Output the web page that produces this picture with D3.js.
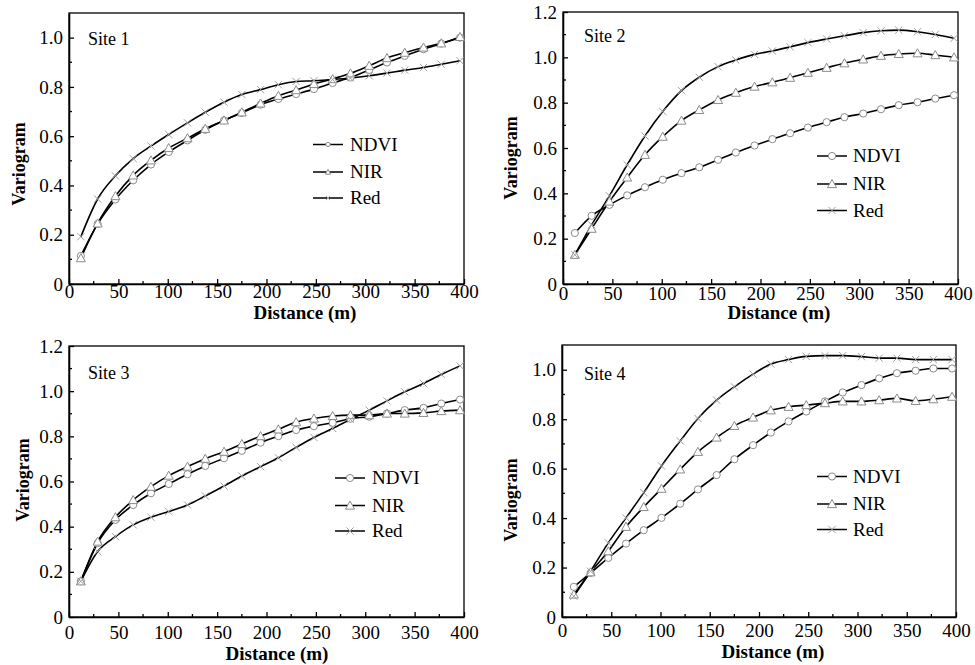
<!DOCTYPE html>
<html><head><meta charset="utf-8">
<script src="https://cdn.jsdelivr.net/npm/d3@7"></script>
</head>
<body style="margin:0;background:#fff;font-family:'Liberation Serif'">
<svg id="c" width="975" height="665" style="font-family:'Liberation Serif'"></svg>
<script>
// ---- data ----
const lags = [12, 29, 47, 65, 83, 101, 120, 138, 157, 175, 194, 212, 230, 248, 267, 285, 304, 322, 340, 359, 377, 396];
const seriesNames = ["NDVI", "NIR", "Red"];
const siteNames = ["Site 1", "Site 2", "Site 3", "Site 4"];
const xTicks = [0, 50, 100, 150, 200, 250, 300, 350, 400];

const site1NDVI = [0.114,0.244,0.343,0.421,0.485,0.536,0.583,0.626,0.664,0.694,0.728,0.751,0.771,0.791,0.816,0.838,0.869,0.899,0.926,0.953,0.976,1.0];
const site1NIR  = [0.105,0.246,0.357,0.441,0.502,0.552,0.592,0.630,0.664,0.697,0.733,0.764,0.787,0.812,0.832,0.855,0.886,0.917,0.939,0.960,0.977,1.003];
const site1Red  = [0.192,0.345,0.439,0.509,0.560,0.607,0.654,0.697,0.738,0.769,0.789,0.809,0.822,0.825,0.830,0.836,0.845,0.856,0.868,0.879,0.892,0.906];

const site2NDVI = [0.225,0.301,0.349,0.391,0.427,0.460,0.489,0.515,0.548,0.580,0.611,0.639,0.665,0.690,0.714,0.736,0.752,0.771,0.789,0.802,0.818,0.833];
const site2NIR  = [0.129,0.244,0.364,0.470,0.570,0.650,0.721,0.768,0.812,0.844,0.871,0.890,0.910,0.932,0.954,0.974,0.991,1.007,1.015,1.018,1.010,1.000];
const site2Red  = [0.129,0.261,0.389,0.526,0.653,0.761,0.853,0.912,0.959,0.988,1.013,1.028,1.046,1.065,1.081,1.095,1.109,1.117,1.120,1.113,1.101,1.084];

const site3NDVI = [0.158,0.327,0.430,0.496,0.548,0.589,0.632,0.669,0.703,0.736,0.772,0.801,0.828,0.845,0.860,0.878,0.887,0.901,0.916,0.926,0.945,0.963];
const site3NIR  = [0.158,0.334,0.442,0.518,0.577,0.626,0.666,0.701,0.732,0.766,0.801,0.831,0.863,0.879,0.890,0.894,0.894,0.901,0.901,0.904,0.912,0.916];
const site3Red  = [0.158,0.290,0.356,0.408,0.442,0.467,0.496,0.536,0.580,0.624,0.666,0.705,0.751,0.795,0.835,0.875,0.916,0.957,0.997,1.034,1.074,1.112];

const site4NDVI = [0.122,0.178,0.239,0.297,0.351,0.401,0.458,0.516,0.574,0.638,0.695,0.746,0.791,0.831,0.872,0.908,0.938,0.965,0.986,0.996,1.005,1.005];
const site4NIR  = [0.091,0.181,0.266,0.365,0.445,0.519,0.597,0.668,0.726,0.773,0.807,0.836,0.850,0.857,0.865,0.872,0.872,0.877,0.884,0.874,0.881,0.891];
const site4Red  = [0.084,0.185,0.300,0.401,0.503,0.611,0.712,0.803,0.877,0.931,0.982,1.023,1.041,1.054,1.057,1.057,1.053,1.047,1.047,1.041,1.041,1.041];

const yMax = [1.1, 1.2, 1.2, 1.1];
const yTicks1 = [0, 0.2, 0.4, 0.6, 0.8, 1.0];
const yTicks2 = [0, 0.2, 0.4, 0.6, 0.8, 1.0, 1.2];

// ---- layout ----
const panels = [
  {L:69,  R:464, T:13,  B:284, xpad:0.5, data:[site1NDVI,site1NIR,site1Red], yt:yTicks1, ylab:[19,164], xlab:[305,319], site:[88,45],  leg:{x1:313,x2:343,tx:350,y:[150.5,178,204]}, lsmall:true},
  {L:563, R:958, T:12,  B:284, xpad:2.5, data:[site2NDVI,site2NIR,site2Red], yt:yTicks2, ylab:[511,158], xlab:[779,319], site:[584,42], leg:{x1:817,x2:847,tx:853,y:[162,190,216.5]}},
  {L:69,  R:464, T:346, B:617, xpad:8.5, data:[site3NDVI,site3NIR,site3Red], yt:yTicks2, ylab:[23,480], xlab:[277,660], site:[88,379], leg:{x1:335,x2:365,tx:372,y:[484,511.5,537]}},
  {L:562, R:956, T:345, B:617, xpad:7,   data:[site4NDVI,site4NIR,site4Red], yt:yTicks1, ylab:[511,500], xlab:[773,658], site:[584,380], leg:{x1:817,x2:847,tx:853,y:[482.5,510,535.5]}}
];

const FONT = "Liberation Serif";
const svg = d3.select("#c");
const MK = "#8c8c8c";

function serif(sel) {
  return sel.attr("font-family", FONT).style("font-family", "'Liberation Serif'");
}

function marker(g, type, x, y, s) {
  if (type === 0) {
    g.append("circle").attr("cx", x).attr("cy", y).attr("r", 3.6*s)
      .attr("fill", "#fff").attr("stroke", MK).attr("stroke-width", 1);
  } else if (type === 1) {
    const h = 4.5*s;
    g.append("path").attr("d", `M${x},${y-h}L${x+h},${y+h*0.8}L${x-h},${y+h*0.8}Z`)
      .attr("fill", "#fff").attr("stroke", MK).attr("stroke-width", 1);
  } else {
    const h = 3.6*s;
    g.append("path").attr("d", `M${x-h},${y-h}L${x+h},${y+h}M${x-h},${y+h}L${x+h},${y-h}`)
      .attr("fill", "none").attr("stroke", "#a0a0a0").attr("stroke-width", 1);
  }
}

panels.forEach((p, i) => {
  const x = d3.scaleLinear().domain([0, 400]).range([p.L, p.R]);
  const y = d3.scaleLinear().domain([0, yMax[i]]).range([p.B, p.T]);
  const g = svg.append("g");

  // frame
  g.append("rect").attr("x", p.L).attr("y", p.T).attr("width", p.R - p.L).attr("height", p.B - p.T)
    .attr("fill", "none").attr("stroke", "#000").attr("stroke-width", 1.3);

  // x axis (inward ticks)
  const xMinor = d3.range(25, 400, 50);
  const xa = g.append("g").attr("transform", `translate(0,${p.B})`)
    .call(d3.axisBottom(x).tickValues(xTicks).tickSizeInner(-5).tickSizeOuter(0).tickPadding(p.xpad).tickFormat(d3.format("d")));
  serif(xa).attr("font-size", 19);
  xa.select(".domain").attr("stroke-width", 1.6);
  xa.selectAll(".tick line").attr("stroke-width", 1.3);
  serif(xa.selectAll("text")).attr("font-size", 19).attr("fill", "#000");
  xMinor.forEach(v => g.append("line").attr("x1", x(v)).attr("x2", x(v)).attr("y1", p.B).attr("y2", p.B - 3).attr("stroke", "#000").attr("stroke-width", 1.3));

  // y axis
  const ya = g.append("g").attr("transform", `translate(${p.L},0)`)
    .call(d3.axisLeft(y).tickValues(p.yt).tickSizeInner(-5).tickSizeOuter(0).tickPadding(6)
      .tickFormat(d => d === 0 ? "0" : d3.format(".1f")(d)));
  serif(ya).attr("font-size", 19);
  ya.select(".domain").attr("stroke-width", 1.6);
  ya.selectAll(".tick line").attr("stroke-width", 1.3);
  serif(ya.selectAll("text")).attr("font-size", 19).attr("fill", "#000");
  d3.range(0.1, yMax[i] - 0.01, 0.2).forEach(v => g.append("line").attr("x1", p.L).attr("x2", p.L + 3).attr("y1", y(v)).attr("y2", y(v)).attr("stroke", "#000").attr("stroke-width", 1.3));

  // labels
  serif(g.append("text")).attr("transform", `translate(${p.ylab[0]},${p.ylab[1]}) rotate(-90)`)
    .attr("text-anchor", "middle").attr("dy", "0.35em").attr("font-size", 18).attr("font-weight", "bold").text("Variogram");
  serif(g.append("text")).attr("x", p.xlab[0]).attr("y", p.xlab[1]).attr("text-anchor", "middle")
    .attr("font-size", 19).attr("font-weight", "bold").text("Distance (m)");
  serif(g.append("text")).attr("x", p.site[0]).attr("y", p.site[1]).attr("font-size", 18).text(siteNames[i]);

  // lines
  const line = d3.line().x((d, j) => x(lags[j])).y(d => y(d)).curve(d3.curveMonotoneX);
  p.data.forEach(arr => {
    g.append("path").attr("d", line(arr)).attr("fill", "none").attr("stroke", "#000").attr("stroke-width", 1.6);
  });
  // markers
  const mg = g.append("g");
  p.data.forEach((arr, k) => {
    arr.forEach((v, j) => marker(mg, k, x(lags[j]), y(v), 1));
  });

  // legend
  seriesNames.forEach((nm, k) => {
    const ly = p.leg.y[k] - 6;
    g.append("line").attr("x1", p.leg.x1).attr("x2", p.leg.x2).attr("y1", ly).attr("y2", ly)
      .attr("stroke", "#000").attr("stroke-width", 1.5);
    marker(g, k, (p.leg.x1 + p.leg.x2) / 2, ly, p.lsmall ? 0.6 : 1);
    serif(g.append("text")).attr("x", p.leg.tx).attr("y", p.leg.y[k]).attr("font-size", 19).text(nm);
  });
});
</script>
</body></html>
